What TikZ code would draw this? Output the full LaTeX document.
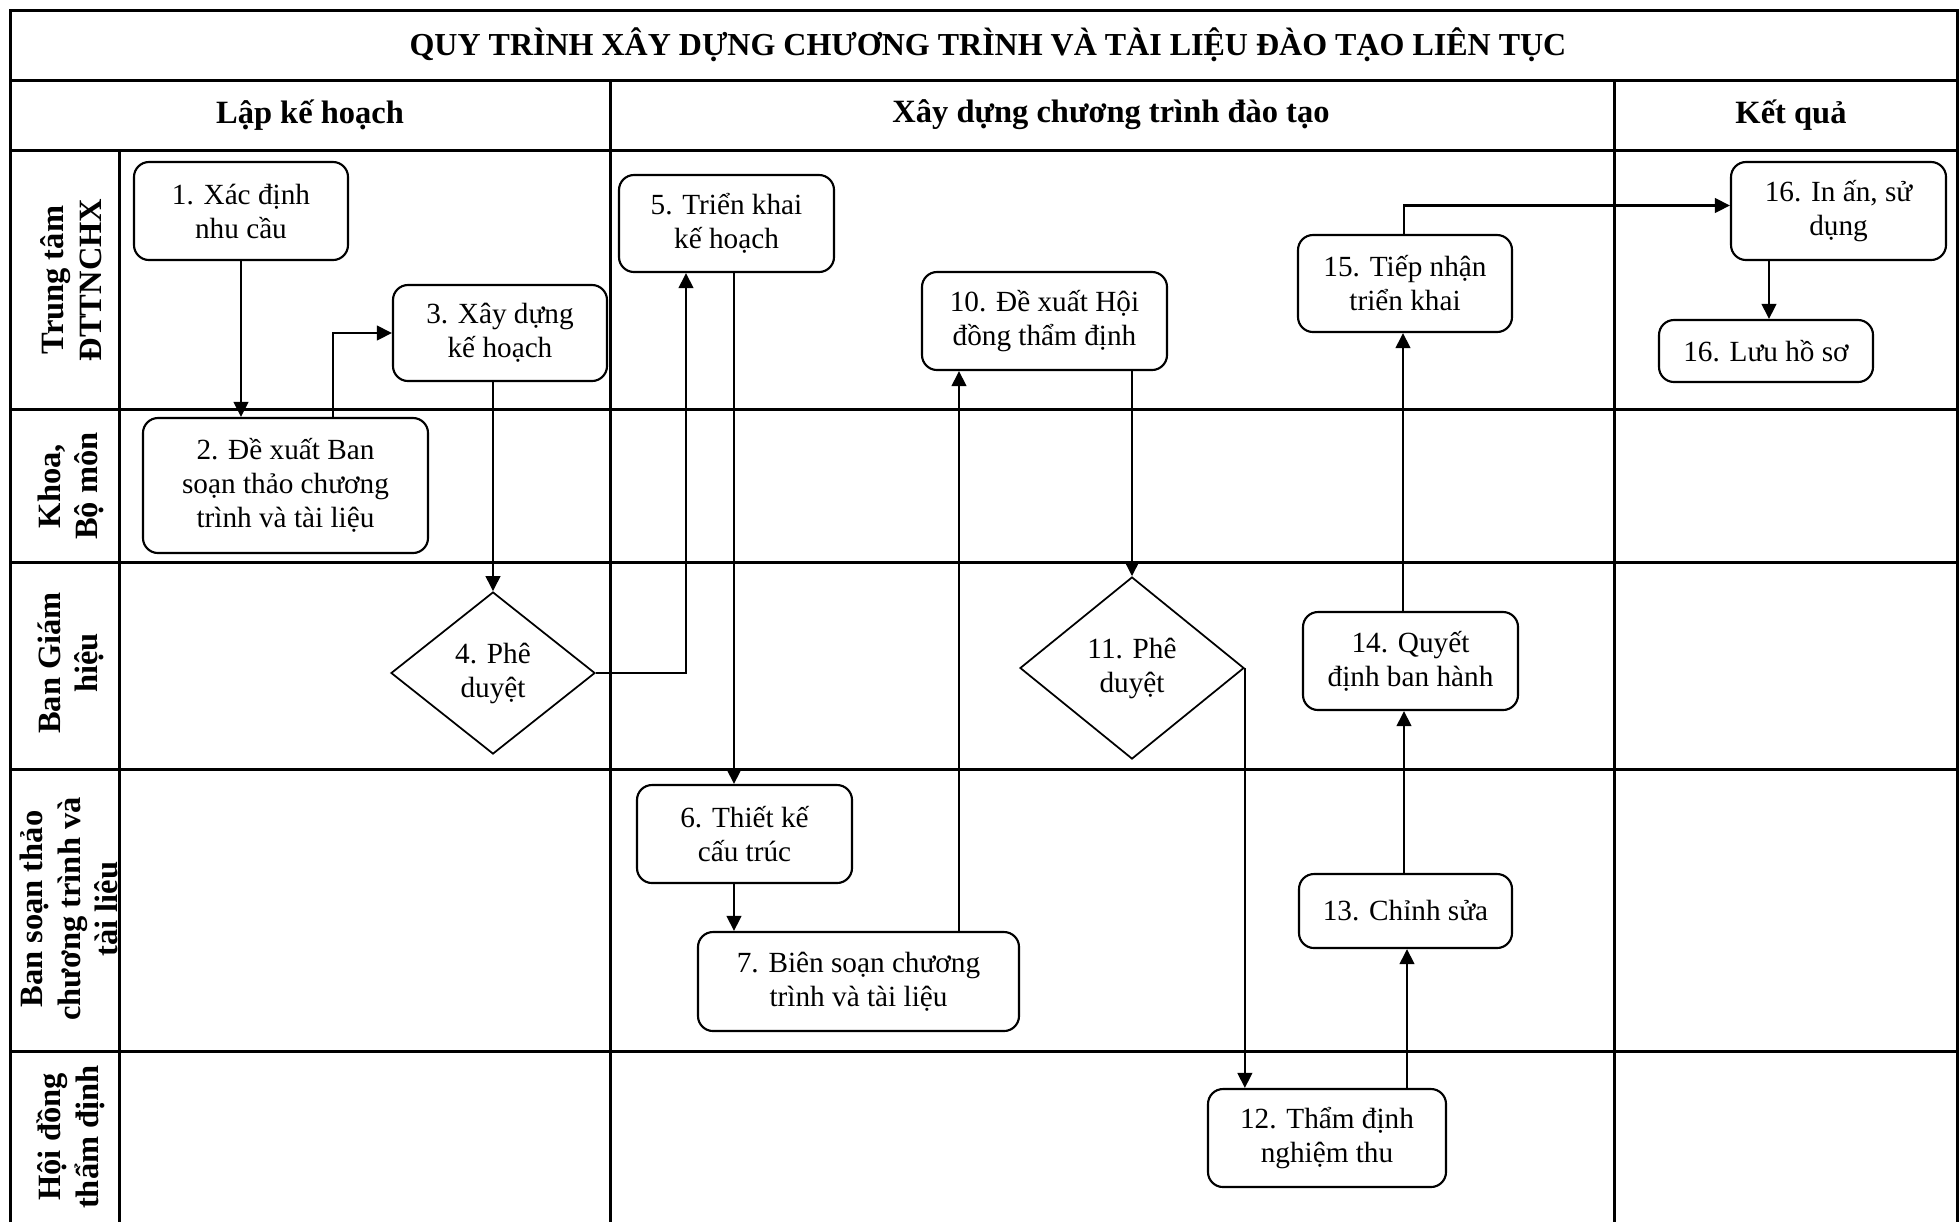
\documentclass[tikz,border=0pt]{standalone}
\usepackage{fontspec}
\setmainfont{Liberation Serif}
\usetikzlibrary{arrows.meta,shapes.geometric,calc}
\begin{document}
\begin{tikzpicture}[x=0.4pt,y=-0.4pt,
  grid/.style={line width=1.2pt},
  box/.style 2 args={draw,line width=0.85pt,rounded corners=6pt,align=center,inner sep=0pt,
    minimum width=#1*0.4pt,minimum height=#2*0.4pt,font=\fontsize{11.7}{13.6}\selectfont},
  dia/.style 2 args={draw,diamond,line width=0.7pt,align=center,inner sep=0pt,
    minimum width=#1*0.4pt,minimum height=#2*0.4pt,font=\fontsize{11.7}{13.6}\selectfont},
  arr/.style={line width=1.05pt,-{Triangle[length=6pt,width=5.8pt]}},
  lanelbl/.style={font=\fontsize{13}{15}\selectfont\bfseries,align=center,rotate=90,inner sep=0pt},
  hdr/.style={font=\fontsize{13}{15}\selectfont\bfseries,inner sep=0pt},
  ttl/.style={font=\fontsize{12.8}{15}\selectfont\bfseries,inner sep=0pt}
]
\useasboundingbox (0,0) rectangle (1959,1222);
% grid
\draw[grid] (10,1222) -- (10,10) -- (1957,10) -- (1957,1222);
\draw[grid] (10,80) -- (1957,80);
\draw[grid] (10,150) -- (1957,150);
\foreach \yy in {409,562,769,1051} \draw[grid] (10,\yy) -- (1957,\yy);
\draw[grid] (119,150) -- (119,1222);
\draw[grid] (610,80) -- (610,1222);
\draw[grid] (1614,80) -- (1614,1222);
% title and headers
\node[ttl] (title) at (988,45) {QUY TRÌNH XÂY DỰNG CHƯƠNG TRÌNH VÀ TÀI LIỆU ĐÀO TẠO LIÊN TỤC};
\node[hdr] (h1) at (310,115) {Lập kế hoạch};
\node[hdr] (h2) at (1111,115) {Xây dựng chương trình đào tạo};
\node[hdr] (h3) at (1791,115) {Kết quả};
% lane labels
\node[lanelbl] (l1) at (71,280) {Trung tâm\\ĐTTNCHX};
\node[lanelbl] (l2) at (71,486) {Khoa,\\Bộ môn};
\node[lanelbl] (l3) at (71,663) {Ban Giám\\hiệu};
\begin{scope}
\clip (10,769) rectangle (118,1051);
\node[lanelbl] (l4) at (72,909) {Ban soạn thảo\\chương trình và\\tài liệu};
\end{scope}
\node[lanelbl] (l5) at (71,1137) {Hội đồng\\thẩm định};
% nodes
\node[box={214}{98}] (n1) at (241,211) {1. Xác định\\nhu cầu};
\node[box={214}{96}] (n3) at (500,333) {3. Xây dựng\\kế hoạch};
\node[box={285}{135}] (n2) at (285.5,485.5) {2. Đề xuất Ban\\soạn thảo chương\\trình và tài liệu};
\node[dia={204}{162}] (d4) at (493,673) {4. Phê\\duyệt};
\node[box={215}{97}] (n5) at (726.5,223.5) {5. Triển khai\\kế hoạch};
\node[box={245}{98}] (n10) at (1044.5,321) {10. Đề xuất Hội\\đồng thẩm định};
\node[dia={224}{182}] (d11) at (1132,668) {11. Phê\\duyệt};
\node[box={215}{98}] (n6) at (744.5,834) {6. Thiết kế\\cấu trúc};
\node[box={321}{99}] (n7) at (858.5,981.5) {7. Biên soạn chương\\trình và tài liệu};
\node[box={238}{98}] (n12) at (1327,1138) {12. Thẩm định\\nghiệm thu};
\node[box={213}{74}] (n13) at (1405.5,911) {13. Chỉnh sửa};
\node[box={215}{98}] (n14) at (1410.5,661) {14. Quyết\\định ban hành};
\node[box={214}{97}] (n15) at (1405,283.5) {15. Tiếp nhận\\triển khai};
\node[box={215}{98}] (n16a) at (1838.5,211) {16. In ấn, sử\\dụng};
\node[box={214}{62}] (n16b) at (1766,351) {16. Lưu hồ sơ};
% helper coordinates
\coordinate (c23) at (333,0);
\coordinate (c45) at (686,0);
\coordinate (c56) at (734,0);
\coordinate (c710) at (959,0);
\coordinate (c1213) at (1407,0);
\coordinate (c1314) at (1404,0);
\coordinate (c1415) at (1403,0);
\coordinate (c1516) at (1404,205.5);
\coordinate (c1616) at (1769,0);
% connectors
\draw[arr] (n1.south) -- (n1.south |- n2.north);
\draw[arr] (n2.north -| c23) |- (n3.west);
\draw[arr] (d4.north |- n3.south) -- (d4.north);
\draw[arr] (d4.east) -| (n5.south -| c45);
\draw[arr] (n5.south -| c56) -- (n6.north -| c56);
\draw[arr] (n6.south -| c56) -- (n7.north -| c56);
\draw[arr] (n7.north -| c710) -- (n10.south -| c710);
\draw[arr] (d11.north |- n10.south) -- (d11.north);
\draw[arr] (d11.east) -- (d11.east |- n12.north);
\draw[arr] (n12.north -| c1213) -- (n13.south -| c1213);
\draw[arr] (n13.north -| c1314) -- (n14.south -| c1314);
\draw[arr] (n14.north -| c1415) -- (n15.south -| c1415);
\draw[arr] (n15.north -| c1516) -- (c1516) -- (n16a.west |- c1516);
\draw[arr] (n16a.south -| c1616) -- (n16b.north -| c1616);
\end{tikzpicture}
\end{document}
